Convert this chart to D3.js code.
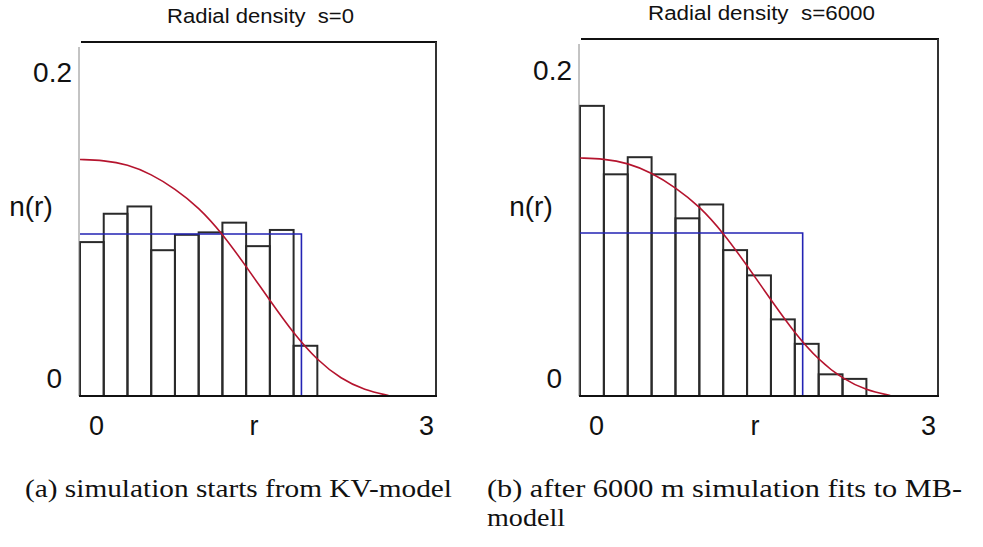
<!DOCTYPE html>
<html>
<head>
<meta charset="utf-8">
<title>Radial density</title>
<script src="https://cdn.jsdelivr.net/npm/d3@7/dist/d3.min.js"></script>
<style>
  body { margin: 0; background: #fff; }
  text { white-space: pre; }
</style>
</head>
<body>
<svg id="chart" width="983" height="547"></svg>
<script>
// histogram bins, width 0.2 in r, starting at 0
var binWidth = 0.2;
var densityStart = [0.095, 0.1125, 0.117, 0.090, 0.0995, 0.101, 0.107, 0.0925, 0.1025, 0.031];
var densityEnd   = [0.178, 0.136, 0.1465, 0.136, 0.109, 0.1175, 0.0895, 0.074, 0.047, 0.032, 0.0133, 0.0105];

// KV model (blue step) : constant density up to the edge
var kvLevel = 0.1;
var kvEdge = 1.866;

// MB model (red curve)
var mbR = [0, 0.2, 0.4, 0.6, 0.8, 1.0, 1.2, 1.4, 1.6, 1.8, 2.0, 2.2, 2.4, 2.6];
var mbN = [0.146, 0.1455, 0.143, 0.137, 0.128, 0.1165, 0.1002, 0.080, 0.059, 0.0385, 0.022, 0.0105, 0.0035, 0.0003];

var titles = ["Radial density  s=0", "Radial density  s=6000"];
var xTicks = ["0", "3"];
var yTicks = [0, 0.2];
var captions = [["(a) simulation starts from KV-model"],
                ["(b) after 6000 m simulation fits to MB-", "modell"]];

var svg = d3.select("#chart");
var sans = "'Liberation Sans', Arial, sans-serif";
var serif = "'Liberation Serif', 'DejaVu Serif', serif";

var panels = [
  {x0: 80, x1: 436, top: 42, bot: 396, y02: 72, titleX: 167, titleW: 187, titleY: 23,
   capX: 25, capW: [427]},
  {x0: 580, x1: 938, top: 39, bot: 396, y02: 70, titleX: 648, titleW: 227, titleY: 20,
   capX: 487, capW: [475, 78]}
];

function drawPanel(p, density, idx) {
  var x = d3.scaleLinear().domain([0, 3]).range([p.x0, p.x1]);
  var y = d3.scaleLinear().domain([0, 0.2]).range([p.bot, p.y02]);
  var g = svg.append("g");

  // title
  g.append("text")
    .attr("x", p.titleX).attr("y", p.titleY)
    .attr("textLength", p.titleW).attr("lengthAdjust", "spacingAndGlyphs")
    .style("font-family", sans).style("font-size", "20px").attr("fill", "#111")
    .text(titles[idx]);

  // bars
  g.selectAll("rect.bar").data(density).enter().append("rect")
    .attr("class", "bar")
    .attr("x", function(d, i) { return x(i * binWidth); })
    .attr("y", function(d) { return y(d); })
    .attr("width", function(d, i) { return x((i + 1) * binWidth) - x(i * binWidth); })
    .attr("height", function(d) { return y(0) - y(d); })
    .attr("fill", "none").attr("stroke", "#2a2a2a").attr("stroke-width", 2);

  // KV step
  var kv = [[0, kvLevel], [kvEdge, kvLevel], [kvEdge, 0]];
  g.append("path")
    .attr("d", d3.line().x(function(d) { return x(d[0]); }).y(function(d) { return y(d[1]); })(kv))
    .attr("fill", "none").attr("stroke", "#2323b4").attr("stroke-width", 1.6);

  // MB curve
  var mb = mbR.map(function(r, i) { return [r, mbN[i]]; });
  g.append("path")
    .attr("d", d3.line().curve(d3.curveBasis)
      .x(function(d) { return x(d[0]); }).y(function(d) { return y(d[1]); })(mb))
    .attr("fill", "none").attr("stroke", "#b5142e").attr("stroke-width", 1.6);

  // frame
  g.append("line").attr("x1", p.x0 + 1).attr("x2", p.x1 + 1).attr("y1", p.top).attr("y2", p.top)
    .attr("stroke", "#111").attr("stroke-width", 2);
  g.append("line").attr("x1", p.x1).attr("x2", p.x1).attr("y1", p.top).attr("y2", p.bot)
    .attr("stroke", "#333").attr("stroke-width", 2);
  g.append("line").attr("x1", p.x0 - 1).attr("x2", p.x0 - 1).attr("y1", p.top + 5).attr("y2", p.bot)
    .attr("stroke", "#888").attr("stroke-width", 1);
  g.append("line").attr("x1", p.x0 - 1).attr("x2", p.x1 + 1).attr("y1", p.bot).attr("y2", p.bot)
    .attr("stroke", "#111").attr("stroke-width", 2);

  // y tick labels
  g.selectAll("text.ytick").data(yTicks).enter().append("text")
    .attr("class", "ytick")
    .attr("x", function(t) { return t > 0 ? p.x0 - 8 : p.x0 - 18; })
    .attr("y", function(t) { return t > 0 ? y(t) + 10 : y(t) - 8; })
    .attr("text-anchor", "end")
    .style("font-family", sans).style("font-size", "28px").attr("fill", "#111")
    .text(function(t) { return t === 0 ? "0" : String(t); });

  g.append("text")
    .attr("x", p.x0 - 49).attr("y", 216)
    .attr("text-anchor", "middle")
    .style("font-family", sans).style("font-size", "28px").attr("fill", "#111")
    .text("n(r)");

  // x tick labels
  g.append("text").attr("x", x(0) + 9).attr("y", 435)
    .style("font-family", sans).style("font-size", "27px").attr("fill", "#111")
    .text(xTicks[0]);
  g.append("text").attr("x", x(3) - 2).attr("y", 435).attr("text-anchor", "end")
    .style("font-family", sans).style("font-size", "27px").attr("fill", "#111")
    .text(xTicks[1]);
  g.append("text").attr("x", (p.x0 + p.x1) / 2 - 4).attr("y", 435).attr("text-anchor", "middle")
    .style("font-family", sans).style("font-size", "27px").attr("fill", "#111")
    .text("r");

  // caption
  captions[idx].forEach(function(line, k) {
    g.append("text")
      .attr("x", p.capX).attr("y", 497 + k * 29)
      .attr("textLength", p.capW[k]).attr("lengthAdjust", "spacingAndGlyphs")
      .style("font-family", serif).style("font-size", "25px").attr("fill", "#111")
      .text(line);
  });
}

drawPanel(panels[0], densityStart, 0);
drawPanel(panels[1], densityEnd, 1);
</script>
</body>
</html>
